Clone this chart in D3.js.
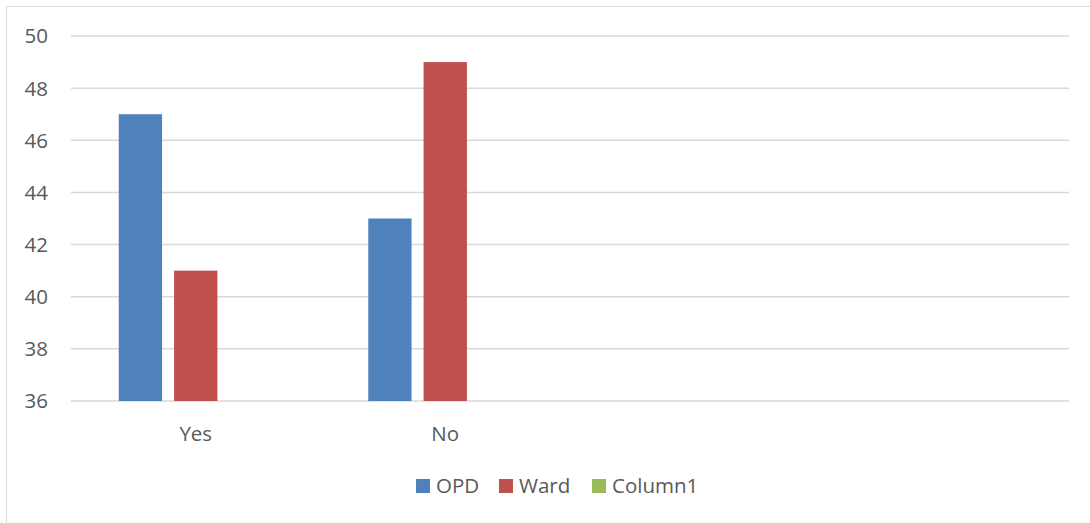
<!DOCTYPE html>
<html>
<head>
<meta charset="utf-8" />
<title>OPD vs Ward</title>
<style>
html, body {
    margin: 0;
    padding: 0;
    background: #fff;
}
#chart text {
    font-family: "Open Sans", "Liberation Sans", sans-serif;
    fill: #595959;
}
</style>
</head>
<body>
<div id="chart"></div>

<script src="https://cdnjs.cloudflare.com/ajax/libs/d3/7.8.5/d3.min.js"></script>
<script>
!(function(){
    "use strict"

    // data
    var categories = ["Yes", "No", "", ""]
    var series = ["OPD", "Ward", "Column1"]
    var opd = [47, 43, null, null]
    var ward = [41, 49, null, null]
    var column1 = [null, null, null, null]
    var yTicks = [36, 38, 40, 42, 44, 46, 48, 50]
    var colors = ["#4f81bd", "#c0504d", "#9bbb59"]

    var values = [opd, ward, column1]

    var width = 1090, height = 523
    var margin = {top: 36, right: 21, bottom: 122, left: 71}
    var fontSize = 20.5

    var svg = d3.select("#chart").append("svg")
        .attr("width", width)
        .attr("height", height)

    // outer frame
    svg.append("rect")
        .attr("x", 6.5).attr("y", 6.5)
        .attr("width", width + 10).attr("height", height + 10)
        .attr("fill", "none")
        .attr("stroke", "#d9d9d9")
        .attr("stroke-width", 1)

    var g = svg.append("g")
        .attr("transform", "translate(" + margin.left + "," + margin.top + ")")

    var w = width - margin.left - margin.right
    var h = height - margin.top - margin.bottom

    var x0 = d3.scaleBand()
        .domain(d3.range(categories.length))
        .range([0, w])
        .padding(0)

    var groupInset = 47.75
    var x1 = d3.scaleBand()
        .domain(d3.range(series.length))
        .range([groupInset, x0.bandwidth() - groupInset])
        .paddingInner(0.217)
        .paddingOuter(0)

    var y = d3.scaleLinear()
        .domain([36, 50])
        .range([h, 0])

    // gridlines
    g.append("g")
        .selectAll("line")
        .data(yTicks)
        .join("line")
        .attr("x1", 0)
        .attr("x2", w)
        .attr("y1", function(d) { return y(d) })
        .attr("y2", function(d) { return y(d) })
        .attr("stroke", "#d9d9d9")
        .attr("stroke-width", 1.5)

    // y axis labels
    var yAxis = g.append("g")
        .call(d3.axisLeft(y).tickValues(yTicks).tickSize(0).tickPadding(23))
    yAxis.select(".domain").remove()
    yAxis.selectAll("text")
        .attr("font-size", fontSize)
        .attr("dy", "0.34em")

    // x axis labels
    var xAxis = g.append("g")
        .attr("transform", "translate(0," + h + ")")
        .call(d3.axisBottom(x0).tickSize(0).tickPadding(25.5)
            .tickFormat(function(i) { return categories[i] }))
    xAxis.select(".domain").remove()
    xAxis.selectAll("text")
        .attr("font-size", fontSize)

    // bars
    var groups = g.append("g")
        .selectAll("g")
        .data(d3.range(categories.length))
        .join("g")
        .attr("transform", function(i) { return "translate(" + x0(i) + ",0)" })

    groups.selectAll("rect")
        .data(function(i) {
            return series.map(function(s, k) { return {k: k, v: values[k][i]} })
                .filter(function(d) { return d.v != null })
        })
        .join("rect")
        .attr("x", function(d) { return x1(d.k) })
        .attr("width", x1.bandwidth())
        .attr("y", function(d) { return y(d.v) })
        .attr("height", function(d) { return h - y(d.v) })
        .attr("fill", function(d) { return colors[d.k] })

    // legend
    var legend = svg.append("g")
        .attr("transform", "translate(416,479)")

    var offsets = [0, 83, 176]
    var item = legend.selectAll("g")
        .data(series)
        .join("g")
        .attr("transform", function(d, k) { return "translate(" + offsets[k] + ",0)" })

    item.append("rect")
        .attr("width", 14)
        .attr("height", 14)
        .attr("fill", function(d, k) { return colors[k] })

    item.append("text")
        .attr("x", 20)
        .attr("y", 7)
        .attr("dy", "0.35em")
        .attr("font-size", fontSize)
        .text(function(d) { return d })
}());
</script>
</body>
</html>
